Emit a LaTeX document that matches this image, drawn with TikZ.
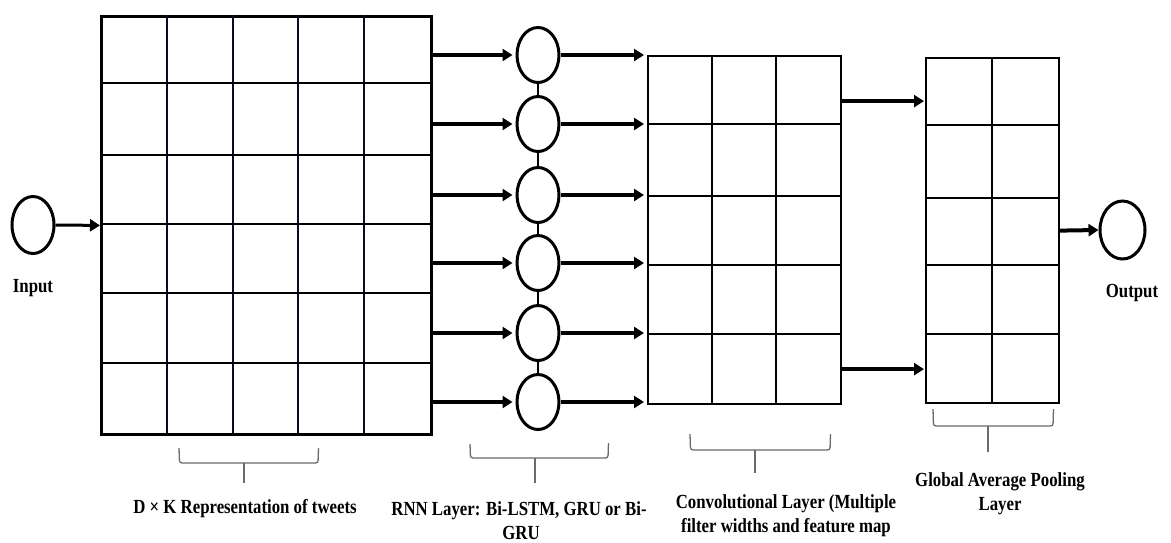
\documentclass[tikz,border=0pt]{standalone}
\usepackage{fontspec}
\newfontfamily\lab[FakeStretch=0.84]{Liberation Serif}
\usetikzlibrary{shapes.geometric,arrows.meta}
\begin{document}
\begin{tikzpicture}[x=1pt,y=-1pt,
  neuron/.style={ellipse,draw,line width=3pt,inner sep=0pt,minimum width=42pt,minimum height=55pt},
  gridbox/.style={draw,inner sep=0pt,anchor=north west},
  flow/.style={line width=3.8pt,-{Triangle[length=10pt,width=12pt]}},
  bracepath/.style={draw=black!58,line width=1.3pt,rounded corners=2.5pt},
  lbl/.style={font=\lab\bfseries\fontsize{20}{22}\selectfont,anchor=base,inner sep=0pt}]
\useasboundingbox[fill=white] (0,0) rectangle (1171,542);

% embedding grid
\node[gridbox,line width=2.8pt,minimum width=330pt,minimum height=418pt] (emb) at (100,15) {};
\foreach \x in {167,233,298,364} \draw[line width=2.4pt,draw={rgb,255:red,10;green,10;blue,40}] (\x,15) -- (\x,433);
\foreach \y in {83,155,224,293,363} \draw[line width=2.6pt] (100,\y) -- (430,\y);

% input
\node[neuron,minimum width=42pt,minimum height=57pt] (in) at (33,225) {};
\draw[flow,line width=3pt] (in.east) -- (emb.west);

% RNN neurons
\foreach \i/\y in {1/55,2/124,3/195,4/263,5/333,6/402}
  \node[neuron] (r\i) at (538,\y) {};
\foreach \a/\b in {1/2,2/3,3/4,4/5,5/6}
  \draw[line width=2.8pt] (r\a.south) -- (r\b.north);

% conv grid
\node[gridbox,line width=2.2pt,minimum width=193pt,minimum height=348pt] (conv) at (647,55) {};
\foreach \x in {712,776} \draw[line width=2.2pt] (\x,55) -- (\x,403);
\foreach \y in {124,196,265,334} \draw[line width=2.2pt] (647,\y) -- (840,\y);

% pooling grid
\node[gridbox,line width=2.2pt,minimum width=133pt,minimum height=345pt] (pool) at (925,57) {};
\draw[line width=2.2pt] (992,57) -- (992,402);
\foreach \y in {125,198,265,334} \draw[line width=2.2pt] (925,\y) -- (1058,\y);

% output
\node[neuron,minimum width=45pt,minimum height=58pt] (out) at (1122.5,230) {};

% arrows
\foreach \i in {1,...,6} {
  \draw[flow,shorten >=3pt] (emb.east |- r\i) -- (r\i.west);
  \draw[flow,shorten >=3pt] (r\i.east) -- (conv.west |- r\i);
}
\draw[flow,line width=4.2pt,shorten >=1pt] ([yshift=129pt]conv.east) -- ([yshift=129pt]conv.east -| pool.west);
\draw[flow,line width=4.2pt,shorten >=1pt] ([yshift=-139pt]conv.east) -- ([yshift=-139pt]conv.east -| pool.west);
\draw[flow,line width=4pt] (pool.east) -- (out.west);

% braces
\draw[bracepath] (179,448) -- (179.5,463) -- (318,463) -- (318.5,448);
\draw[bracepath] (244,463) -- (244,483);
\draw[bracepath] (470,444) -- (470.5,458) -- (608,458) -- (608.5,443);
\draw[bracepath] (535,458) -- (535,483);
\draw[bracepath] (690,434) -- (690.5,450) -- (830,450) -- (830.5,434);
\draw[bracepath] (755,450) -- (755,473);
\draw[bracepath] (933,409) -- (933.5,426) -- (1053,426) -- (1053.5,409);
\draw[bracepath] (988,426) -- (988,452);

% labels
\node[lbl] (inl) at (33,292) {Input};
\node[lbl] (outl) at (1132,297) {Output};
\node[lbl] (embl) at (245,513) {D × K Representation of tweets};
\node[lbl] (rnnA) at (519,515) {RNN Layer: Bi-LSTM, GRU or Bi-};
\node[lbl] (rnnB) at (521,539) {GRU};
\node[lbl] (convA) at (786,508) {Convolutional Layer (Multiple};
\node[lbl] (convB) at (786,532) {filter widths and feature map};
\node[lbl] (poolA) at (1000,486) {Global Average Pooling};
\node[lbl] (poolB) at (1000,510) {Layer};
\end{tikzpicture}
\end{document}
